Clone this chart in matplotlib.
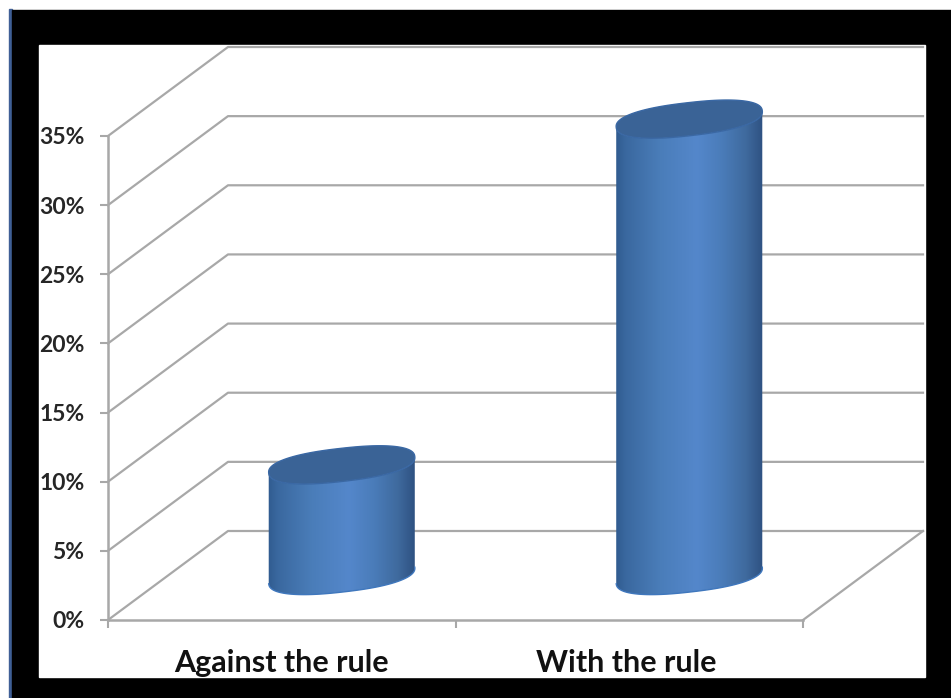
import numpy as np
import matplotlib
matplotlib.use('Agg')
import matplotlib.pyplot as plt
from matplotlib.colors import LinearSegmentedColormap
from matplotlib.patches import Polygon, Rectangle

categories = ['Against the rule', 'With the rule']
values = [8, 33]
y_ticks = [0, 5, 10, 15, 20, 25, 30, 35]

GRID = '#a8a8a8'
W, H = 951, 698

fig = plt.figure(figsize=(9.51, 6.98), dpi=100, facecolor='white')

# black picture frame behind the chart
fig.patches.append(Rectangle((9 / W, 0), 3 / W, 1 - 9 / H, transform=fig.transFigure, color='#3f5f96', zorder=-3))
fig.patches.append(Rectangle((12 / W, 0), (W - 12) / W, 1 - 10 / H, transform=fig.transFigure, color='black', zorder=-2))
fig.patches.append(Rectangle((39 / W, 21 / H), 886 / W, 632 / H, transform=fig.transFigure, color='white', zorder=-1))

# axes box is the front face of the 3d plot
left, right, top, bottom = 108, 803, 136, 620
ax = fig.add_axes([left / W, 1 - bottom / H, (right - left) / W, (bottom - top) / H])
ax.patch.set_alpha(0)
for s in ax.spines.values():
    s.set_visible(False)

px_x = (right - left) / 2
px_y = (bottom - top) / 35
depth_x = 120 / px_x
depth_y = 89 / px_y

# walls
for v in y_ticks:
    ax.plot([0, depth_x, 2 + depth_x], [v, v + depth_y, v + depth_y],
            color=GRID, lw=1.6, clip_on=False, zorder=1)
ax.plot([2, 2 + depth_x], [0, depth_y], color=GRID, lw=1.6, clip_on=False, zorder=1)
ax.plot([0, 2], [0, 0], color=GRID, lw=1.8, clip_on=False, zorder=1)
ax.plot([0, 0], [0, 35], color=GRID, lw=1.8, clip_on=False, zorder=1)

cmap = LinearSegmentedColormap.from_list('cyl', [
    (0.0, '#2f5a8e'), (0.07, '#3a689f'), (0.3, '#4a7db9'), (0.55, '#5487cb'),
    (0.72, '#4a7cb9'), (0.88, '#3f6a9e'), (1.0, '#2d5080')])


def ellipse(cx, cy, t):
    # tilted ellipse, a bit squared off, worked out in pixels then back to data units
    a, b, ang = 73.5, 16.5, np.radians(6.5)
    c = np.sign(np.cos(t)) * np.abs(np.cos(t)) ** 0.85
    s = np.sign(np.sin(t)) * np.abs(np.sin(t)) ** 0.85
    ex = a * c * np.cos(ang) - b * s * np.sin(ang)
    ey = a * c * np.sin(ang) + b * s * np.cos(ang)
    return cx + ex / px_x, cy + ey / px_y


t_all = np.linspace(0, 2 * np.pi, 300)
grad = np.linspace(0, 1, 256).reshape(1, -1)

for i, (name, val) in enumerate(zip(categories, values)):
    cx = i + 0.5 + depth_x / 2
    base = depth_y / 2

    # body: lower half of the bottom ellipse + upper end up to the top ellipse
    tb = np.linspace(np.pi, 2 * np.pi, 120)
    xb, yb = ellipse(cx, base, tb)
    xt, yt = ellipse(cx, base + val, tb[::-1])
    body = Polygon(np.r_[np.c_[xb, yb], np.c_[xt, yt]], closed=True, transform=ax.transData,
                   fc='none', ec='none')
    ax.add_patch(body)
    hw = 74.5 / px_x
    im = ax.imshow(grad, cmap=cmap, aspect='auto', zorder=3,
                   extent=[cx - hw, cx + hw, base - 3, base + val + 3])
    im.set_clip_box(fig.bbox)
    im.set_clip_path(body)

    # brighter rim along the bottom
    ax.plot(xb, yb, color='#3f77bd', lw=1.0, zorder=4, clip_on=False)

    # top cap
    xc, yc = ellipse(cx, base + val, t_all)
    ax.fill(xc, yc, fc='#3a6396', ec='#3a68a4', lw=1.0, zorder=5, clip_on=False)

ax.set_xlim(0, 2)
ax.set_ylim(0, 35)

ax.set_xticks([0, 1, 2])
ax.set_xticklabels([])
ax.set_yticks(y_ticks)
ax.set_yticklabels(['%d%%' % v for v in y_ticks], fontfamily='Lato', fontweight='bold',
                   fontsize=16.5, color='#262626')
ax.tick_params(axis='both', length=5.5, width=1.5, color=GRID)
ax.tick_params(axis='y', pad=11.5)

for i, name in enumerate(categories):
    ax.annotate(name, (i + 0.5, 0), xytext=(-i * 2, -37.5), textcoords='offset points',
                ha='center', va='baseline', fontfamily='Lato', fontweight='bold',
                fontsize=22, color='#111111', annotation_clip=False)

fig.savefig('out.png', dpi=100)
